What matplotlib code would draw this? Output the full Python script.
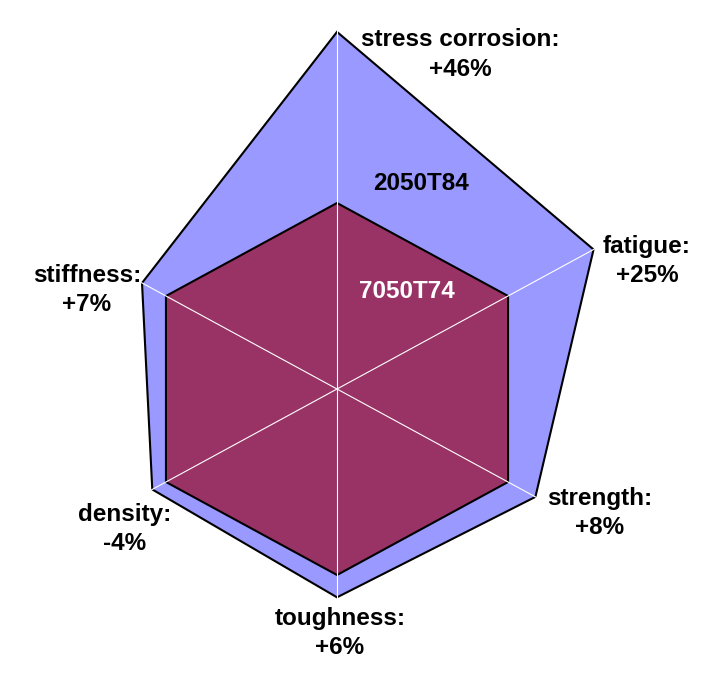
import numpy as np
import matplotlib.pyplot as plt

plt.rcParams['font.family'] = ['Liberation Sans', 'DejaVu Sans']

# data
categories = ['stress corrosion', 'fatigue', 'strength', 'toughness', 'density', 'stiffness']
change_labels = ['+46%', '+25%', '+8%', '+6%', '-4%', '+7%']
alloy_new = [1.46, 1.25, 1.08, 1.06, 1.04, 1.07]   # 2050T84 relative to 7050T74
alloy_ref = [1.0, 1.0, 1.0, 1.0, 1.0, 1.0]          # 7050T74 baseline
series_names = ['2050T84', '7050T74']

W, H = 728, 699
fig = plt.figure(figsize=(W / 100, H / 100), dpi=100)

# polar axes, slightly stretched horizontally like the original
cx, cy = 337, 389
rx, ry = 395, 372
ax = fig.add_axes([(cx - rx) / W, (H - cy - ry) / H, 2 * rx / W, 2 * ry / H],
                  projection='polar')
ax.set_aspect('auto')
ax.set_theta_offset(np.pi / 2)
ax.set_theta_direction(-1)
ax.set_rlim(0.5, 1.5)
ax.set_facecolor('none')
ax.spines['polar'].set_visible(False)
ax.grid(False)
ax.set_xticks([])
ax.set_yticks([])

theta = np.arange(len(categories)) * 2 * np.pi / len(categories)
th_closed = np.append(theta, theta[0])

ax.fill(th_closed, np.append(alloy_new, alloy_new[0]), facecolor='#9999FF',
        edgecolor='black', linewidth=1.5, zorder=1, clip_on=False)
ax.fill(th_closed, np.append(alloy_ref, alloy_ref[0]), facecolor='#993366',
        edgecolor='black', linewidth=1.5, zorder=2, clip_on=False)

# white spokes
for t in theta:
    ax.plot([t, t], [0.5, 1.5], color='white', linewidth=0.8, zorder=3, clip_on=False)

# category labels (pixel positions from the reference)
fs = 17.5
label_pos = [(460, 40), (647, 247), (600, 499), (340, 618), (125, 514), (87, 275)]
for name, chg, (px, py) in zip(categories, change_labels, label_pos):
    fig.text(px / W, 1 - py / H, name + ':', ha='center', va='center',
             fontsize=fs, fontweight='bold')
    fig.text(px / W, 1 - (py + 29) / H, chg, ha='center', va='center',
             fontsize=fs, fontweight='bold')

# series names
fig.text(421 / W, 1 - 184 / H, series_names[0], ha='center', va='center',
         fontsize=fs, fontweight='bold', color='black')
fig.text(407 / W, 1 - 292 / H, series_names[1], ha='center', va='center',
         fontsize=fs, fontweight='bold', color='white')

fig.savefig('out.png', dpi=100, facecolor='white')
